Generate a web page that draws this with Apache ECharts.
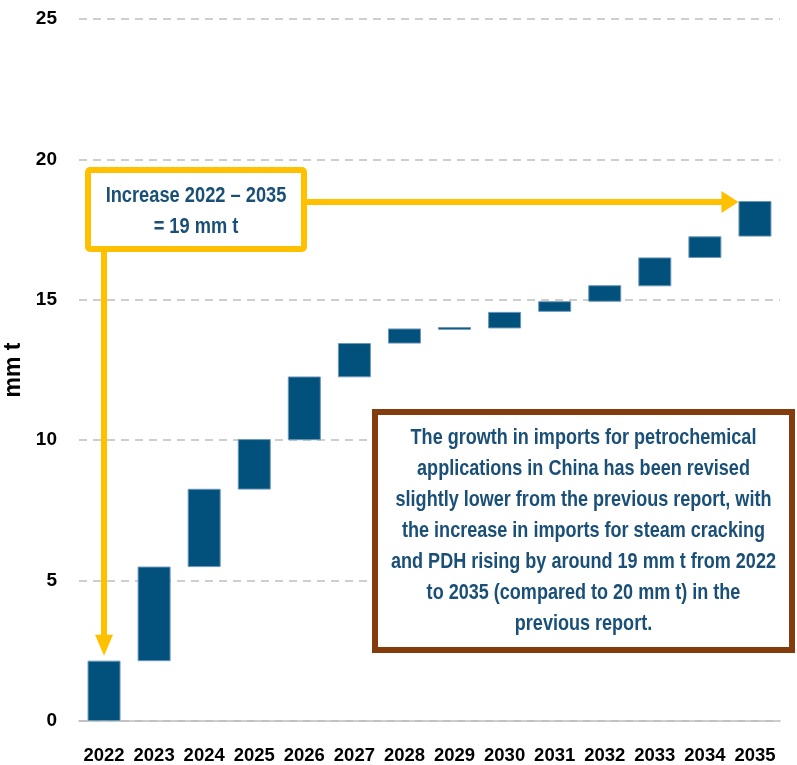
<!DOCTYPE html>
<html>
<head>
<meta charset="utf-8">
<script src="https://cdn.jsdelivr.net/npm/echarts@6/dist/echarts.min.js"></script>
<style>
    html, body {margin: 0; padding: 0; background: #fff;}
    #main {width: 797px; height: 765px;}
</style>
</head>
<body>
<div id="main"></div>
<script>
/*数据start*/
let years = ['2022', '2023', '2024', '2025', '2026', '2027', '2028', '2029', '2030', '2031', '2032', '2033', '2034', '2035']
// 每个柱子的底部和顶部 (mm t)
let barBottom = [0, 2.13, 5.48, 8.24, 10.0, 12.24, 13.44, 13.93, 13.98, 14.57, 14.93, 15.48, 16.49, 17.25]
let barTop = [2.15, 5.5, 8.27, 10.04, 12.27, 13.46, 13.98, 14.03, 14.57, 14.95, 15.52, 16.51, 17.26, 18.52]
let yTicks = [0, 5, 10, 15, 20, 25]
let boxNote = ['Increase 2022 \u2013 2035', '= 19 mm t']
let mainNote = [
    'The growth in imports for petrochemical',
    'applications in China has been revised',
    'slightly lower from the previous report, with',
    'the increase in imports for steam cracking',
    'and PDH rising by around 19 mm t from 2022',
    'to 2035 (compared to 20 mm t) in the',
    'previous report.'
]
/*数据end*/

let font = '"Liberation Sans", Arial, sans-serif'
let blue = '#02507C'
let yellow = '#FFC000'
let brown = '#843C0C'
let textBlue = '#1A4F78'

let chart = echarts.init(document.getElementById('main'))

let option = {
    animation: false,
    grid: {left: 79, right: 17, top: 19, bottom: 44, outerBoundsMode: 'none', containLabel: false},
    xAxis: {
        type: 'category',
        data: years,
        axisTick: {show: false},
        axisLine: {lineStyle: {color: '#BFBFBF', width: 1.5}},
        axisLabel: {
            interval: 0,
            color: '#000',
            fontFamily: font,
            fontWeight: 'bold',
            fontSize: 18.5,
            margin: 25
        }
    },
    yAxis: {
        type: 'value',
        min: yTicks[0],
        max: yTicks[yTicks.length - 1],
        interval: 5,
        name: 'mm t',
        nameLocation: 'middle',
        nameGap: 48,
        nameTextStyle: {
            color: '#000',
            fontFamily: font,
            fontWeight: 'bold',
            fontSize: 23
        },
        axisLine: {show: false},
        axisTick: {show: false},
        axisLabel: {
            color: '#000',
            fontFamily: font,
            fontWeight: 'bold',
            fontSize: 19,
            margin: 22
        },
        splitLine: {lineStyle: {color: '#BFBFBF', type: [8, 6], width: 1.5}}
    },
    series: [
        {
            name: 'base',
            type: 'bar',
            stack: 'w',
            barWidth: 33,
            itemStyle: {color: 'transparent'},
            data: barBottom
        },
        {
            name: 'increase',
            type: 'bar',
            stack: 'w',
            barWidth: 33,
            itemStyle: {color: blue, borderColor: '#6D98BA', borderWidth: 1},
            data: barTop.map((t, i) => +(t - barBottom[i]).toFixed(3))
        }
    ]
}
chart.setOption(option)

// 注释框和箭头
let first = chart.convertToPixel({gridIndex: 0}, [years[0], barTop[0]])
let last = chart.convertToPixel({gridIndex: 0}, [years[years.length - 1], barTop[barTop.length - 1]])
let halfBar = 16.5

let yBox = {x: 88, y: 170, w: 216, h: 79}
let bBox = {x: 375, y: 412, w: 417, h: 238}
let lh = 31

let graphics = []

// 黄色竖箭头
let vTipY = first[1] - 5
graphics.push({
    type: 'line', z: 10,
    shape: {x1: first[0], y1: yBox.y + yBox.h + 2, x2: first[0], y2: vTipY - 18},
    style: {stroke: yellow, lineWidth: 6}
})
graphics.push({
    type: 'polygon', z: 10,
    shape: {points: [[first[0] - 9, vTipY - 21], [first[0] + 9, vTipY - 21], [first[0], vTipY]]},
    style: {fill: yellow}
})

// 黄色横箭头
let hTipX = last[0] - halfBar
let hY = last[1] + 1
graphics.push({
    type: 'line', z: 10,
    shape: {x1: yBox.x + yBox.w + 2, y1: hY, x2: hTipX - 15, y2: hY},
    style: {stroke: yellow, lineWidth: 6}
})
graphics.push({
    type: 'polygon', z: 10,
    shape: {points: [[hTipX - 17, hY - 11], [hTipX - 17, hY + 11], [hTipX, hY]]},
    style: {fill: yellow}
})

// 黄色框
graphics.push({
    type: 'rect', z: 11,
    shape: {x: yBox.x, y: yBox.y, width: yBox.w, height: yBox.h, r: 2},
    style: {fill: '#fff', stroke: yellow, lineWidth: 6}
})
boxNote.forEach((t, i) => {
    graphics.push({
        type: 'text', z: 12,
        x: yBox.x + yBox.w / 2,
        y: 196 + i * lh,
        scaleX: 0.83,
        style: {
            text: t, fill: textBlue, fontFamily: font, fontSize: 22, fontWeight: 'bold',
            align: 'center', verticalAlign: 'middle'
        }
    })
})

// 棕色框
graphics.push({
    type: 'rect', z: 11,
    shape: {x: bBox.x, y: bBox.y, width: bBox.w, height: bBox.h},
    style: {fill: '#fff', stroke: brown, lineWidth: 6}
})
mainNote.forEach((t, i) => {
    graphics.push({
        type: 'text', z: 12,
        x: bBox.x + bBox.w / 2,
        y: 438 + i * lh,
        scaleX: 0.82,
        style: {
            text: t, fill: textBlue, fontFamily: font, fontSize: 22, fontWeight: 'bold',
            align: 'center', verticalAlign: 'middle'
        }
    })
})

chart.setOption({graphic: graphics})
</script>
</body>
</html>
